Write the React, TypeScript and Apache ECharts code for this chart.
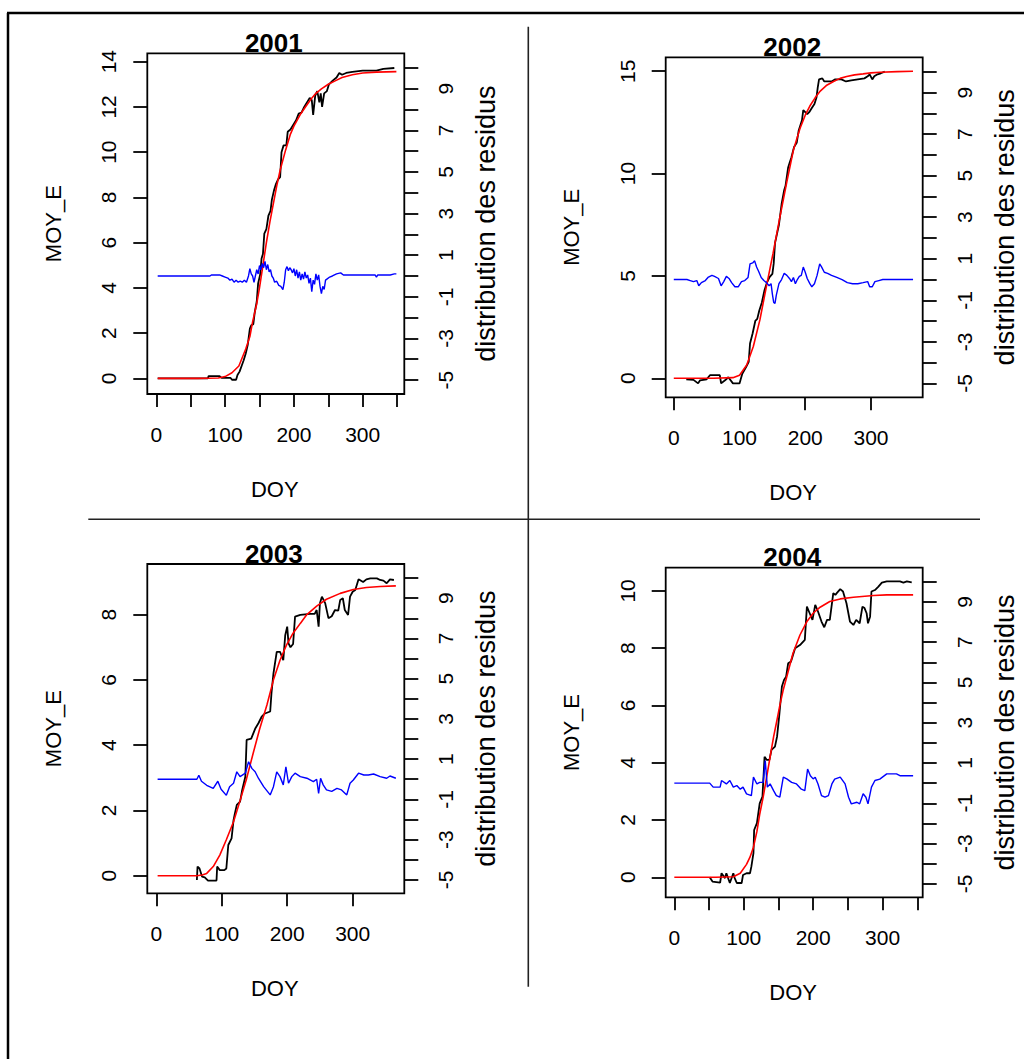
import React, { useEffect, useRef } from "react";
import * as echarts from "echarts";

type P = [number, number][];

const FONT = '"Liberation Sans", Arial, Helvetica, sans-serif';

// ---------- titles / labels ----------
const years = ["2001", "2002", "2003", "2004"];
const yName = "MOY_E";
const xName = "DOY";
const resName = "distribution des residus";

// ---------- tick values ----------
const xTicks50 = [0, 50, 100, 150, 200, 250, 300, 350];
const xTicks100 = [0, 100, 200, 300];
const xLabels = [0, 100, 200, 300];
const yTicks2001 = [0, 2, 4, 6, 8, 10, 12, 14];
const yTicks2002 = [0, 5, 10, 15];
const yTicks2003 = [0, 2, 4, 6, 8];
const yTicks2004 = [0, 2, 4, 6, 8, 10];
const resTicks = [-5, -4, -3, -2, -1, 0, 1, 2, 3, 4, 5, 6, 7, 8, 9, 10];
const resLabels = [-5, -3, -1, 1, 3, 5, 7, 9];

// ---------- 2001 ----------
const obs2001: P = [[2,0],[75,0],[76,0.1],[92,0.1],[95,0.02],[108,0.02],[110,-0.06],[116,-0.06],[118,0.15],[121,0.3],[124,0.55],[127,0.8],[130,1.1],[133,1.5],[136,2.2],[138,2.35],[141,2.4],[143,2.9],[146,3.4],[148,4.2],[151,4.6],[153,5.3],[155,5.5],[157,6.4],[160,6.6],[163,7.2],[166,7.4],[168,7.9],[171,8.3],[174,8.6],[177,8.8],[180,8.9],[182,10.0],[185,10.3],[189,10.3],[191,10.9],[195,11.0],[199,11.2],[203,11.4],[207,11.7],[211,11.75],[215,12.0],[219,12.2],[223,12.4],[226,12.3],[228,11.65],[231,12.5],[234,12.7],[237,12.2],[239,12.6],[241,12.0],[244,12.6],[248,12.7],[251,13.0],[256,13.15],[262,13.3],[266,13.5],[270,13.42],[276,13.5],[285,13.55],[300,13.6],[320,13.6],[330,13.68],[346,13.72]];
const fit2001: P = [[2,0],[60,0],[90,0.02],[100,0.08],[110,0.25],[120,0.55],[130,1.3],[136,1.85],[140,2.5],[146,3.3],[150,4.0],[155,5.0],[160,6.0],[165,6.9],[170,7.7],[175,8.5],[180,9.2],[188,10.1],[195,10.8],[200,11.15],[210,11.7],[218,12.05],[225,12.35],[232,12.6],[240,12.8],[250,13.0],[260,13.15],[270,13.3],[285,13.42],[300,13.5],[320,13.54],[349,13.56]];
const res2001: P = [[2,0],[78,0],[80,0.05],[92,0.05],[96,0],[100,-0.05],[104,-0.1],[107,-0.2],[110,-0.15],[113,-0.3],[116,-0.2],[119,-0.3],[122,-0.25],[125,-0.3],[128,-0.2],[131,-0.3],[134,0],[136,0.35],[138,0.1],[140,0],[142,-0.3],[144,0],[146,0.3],[148,0.1],[150,0.5],[152,0.3],[154,0.6],[156,0.4],[158,0.7],[160,0.3],[162,0.55],[164,0.2],[166,0.3],[168,0],[170,-0.1],[172,-0.3],[175,-0.25],[178,-0.45],[181,-0.5],[184,-0.65],[186,-0.3],[188,0.3],[190,0.45],[192,0.25],[194,0.4],[196,0.3],[198,0.15],[200,0.35],[202,0],[204,0.3],[206,-0.1],[208,0.2],[210,-0.2],[212,0.1],[214,-0.15],[216,0.2],[218,-0.1],[220,0.05],[222,-0.35],[224,-0.1],[226,-0.75],[228,-0.2],[230,-0.4],[232,0.1],[234,-0.2],[236,0.05],[238,-0.5],[240,-0.85],[242,-0.5],[244,-0.65],[246,-0.2],[248,-0.15],[252,-0.05],[256,0],[262,0.1],[268,0.15],[272,0.05],[300,0.05],[318,0.05],[320,-0.05],[322,0.05],[340,0.05],[346,0.1],[349,0.1]];

// ---------- 2002 ----------
const obs2002: P = [[19,-0.05],[30,-0.08],[37,-0.25],[40,-0.1],[50,-0.05],[55,0.15],[70,0.15],[72,-0.25],[78,-0.1],[83,0.05],[90,-0.25],[100,-0.25],[104,0.2],[110,0.55],[114,0.8],[116,1.7],[120,2.2],[124,2.8],[127,2.9],[130,3.3],[134,3.7],[138,4.3],[142,4.7],[146,4.95],[150,5.1],[152,5.6],[154,6.6],[158,7.2],[160,7.5],[164,8.5],[168,9.2],[170,9.4],[174,10.3],[176,10.5],[179,10.8],[183,11.3],[187,11.5],[190,12.1],[192,12.3],[195,12.6],[197,13.1],[200,13.0],[203,12.9],[206,13.0],[210,13.2],[214,13.4],[217,13.7],[219,14.2],[221,14.6],[226,14.65],[229,14.5],[240,14.5],[245,14.6],[255,14.6],[262,14.5],[270,14.55],[280,14.6],[290,14.65],[295,14.75],[298,14.85],[302,14.6],[305,14.75],[310,14.85],[315,14.9],[321,14.98]];
const fit2002: P = [[0,0],[60,0],[90,0.03],[100,0.15],[111,0.65],[121,1.55],[131,2.85],[141,4.5],[151,6.1],[161,7.8],[172,9.6],[182,11.15],[192,12.2],[200,12.85],[207,13.3],[215,13.7],[222,14.0],[232,14.3],[243,14.5],[253,14.65],[263,14.74],[275,14.82],[288,14.87],[300,14.92],[314,14.95],[340,14.98],[364,15.0]];
const res2002: P = [[0,0],[20,0],[25,-0.05],[30,-0.1],[35,-0.05],[38,-0.3],[42,-0.15],[48,-0.05],[52,0.1],[58,0.2],[62,0.15],[68,0.05],[72,-0.3],[76,-0.1],[80,0.15],[84,0.05],[88,-0.15],[93,-0.35],[98,-0.35],[103,-0.1],[108,-0.05],[113,0.1],[116,0.75],[120,0.8],[123,0.9],[126,0.6],[129,0.4],[133,0.1],[137,-0.05],[141,-0.15],[145,-0.3],[148,-0.2],[150,-0.7],[152,-1.1],[154,-1.15],[156,-0.75],[160,-0.2],[164,0],[168,0.3],[172,0.2],[176,0.05],[179,-0.1],[182,0.1],[185,-0.2],[188,0],[191,0.15],[194,0.2],[197,0.6],[200,0.35],[203,0.05],[207,-0.2],[210,-0.35],[214,-0.2],[218,0.2],[222,0.75],[225,0.6],[229,0.35],[234,0.3],[240,0.2],[248,0.1],[256,0],[264,-0.15],[272,-0.2],[280,-0.2],[288,-0.15],[295,-0.1],[298,-0.35],[302,-0.35],[306,-0.1],[312,-0.05],[318,0],[364,0]];

// ---------- 2003 ----------
const obs2003: P = [[62,-0.13],[63,0.28],[66,0.22],[70,-0.03],[74,-0.05],[79,-0.15],[92,-0.15],[93,0.28],[97,0.17],[104,0.17],[107,0.22],[110,0.94],[115,1.14],[118,1.7],[120,1.9],[123,2.17],[128,2.27],[131,2.6],[136,3.03],[138,4.16],[145,4.2],[151,4.5],[156,4.67],[161,4.87],[166,4.97],[174,5.03],[176,5.6],[179,6.2],[184,6.86],[189,6.86],[194,6.6],[197,7.37],[200,7.63],[202,7.12],[205,7.0],[209,7.1],[212,7.94],[220,7.99],[235,8.02],[242,8.02],[245,8.14],[248,7.63],[250,8.35],[253,8.55],[258,8.35],[263,7.89],[268,7.95],[273,8.14],[278,8.12],[281,8.45],[285,8.5],[288,8.14],[293,7.99],[296,8.55],[300,8.7],[304,8.75],[309,9.08],[316,9.0],[321,9.08],[327,9.11],[337,9.11],[342,9.06],[347,9.04],[352,8.96],[357,9.08],[363,9.06]];
const fit2003: P = [[2,0],[62,0],[70,0.02],[77,0.07],[87,0.28],[97,0.63],[107,1.1],[118,1.65],[128,2.3],[138,2.98],[148,3.75],[158,4.5],[169,5.23],[179,6.0],[189,6.6],[199,7.07],[209,7.43],[220,7.73],[230,8.0],[245,8.26],[260,8.47],[281,8.65],[301,8.77],[321,8.83],[342,8.86],[366,8.88]];
const res2003: P = [[2,0],[62,0],[65,0.2],[69,-0.1],[77,-0.3],[87,-0.45],[94,-0.1],[99,-0.5],[107,-0.8],[112,-0.37],[118,-0.2],[123,0.37],[128,0.13],[136,0.3],[141,0.87],[146,0.54],[151,0.37],[156,0.05],[164,-0.37],[174,-0.78],[179,-0.37],[184,0.37],[189,0.13],[194,-0.28],[198,0.62],[202,-0.2],[207,0.13],[212,0.3],[220,0.13],[230,0.05],[240,-0.12],[245,0],[248,-0.7],[251,0.05],[255,-0.28],[260,-0.53],[268,-0.6],[276,-0.45],[283,-0.53],[291,-0.78],[296,-0.2],[301,-0.04],[309,0.3],[317,0.21],[324,0.21],[332,0.26],[342,0.13],[352,0.05],[357,0.16],[366,0.05]];

// ---------- 2004 ----------
const obs2004: P = [[51,0],[55,-0.15],[66,-0.19],[68,0.14],[73,-0.03],[75,0.14],[80,-0.2],[85,0.14],[87,-0.03],[90,-0.2],[97,-0.2],[99,0.08],[104,0.14],[109,0.14],[111,0.37],[114,0.84],[115,1.65],[119,1.89],[123,2.58],[127,2.82],[130,4.21],[133,4.1],[137,4.1],[140,4.45],[145,4.56],[148,4.91],[151,5.61],[155,6.66],[158,6.89],[161,7.0],[164,7.47],[168,7.53],[174,8.0],[181,8.11],[188,8.29],[191,9.45],[195,9.22],[199,8.99],[203,9.51],[207,9.28],[212,8.93],[216,8.73],[220,8.99],[224,8.99],[229,9.92],[232,9.86],[234,9.92],[239,10.06],[243,9.98],[248,9.57],[253,8.93],[258,8.81],[262,8.99],[267,8.87],[271,9.45],[274,9.4],[277,9.22],[279,8.87],[282,9.1],[284,9.98],[289,10.03],[294,10.15],[299,10.29],[306,10.33],[325,10.33],[330,10.29],[335,10.33],[342,10.3]];
const fit2004: P = [[0,0],[60,0],[85,0.02],[95,0.14],[104,0.45],[109,0.7],[114,1.05],[119,1.6],[123,2.2],[128,2.8],[133,3.5],[138,4.2],[143,4.9],[148,5.5],[152,6.0],[157,6.55],[162,7.0],[171,7.82],[181,8.46],[191,8.93],[200,9.22],[210,9.43],[224,9.63],[239,9.72],[258,9.78],[287,9.84],[306,9.86],[344,9.86]];
const res2004: P = [[0,0],[51,0],[56,-0.2],[66,-0.2],[68,0.13],[75,-0.04],[80,0.13],[85,-0.2],[90,-0.12],[95,-0.3],[99,-0.2],[104,-0.53],[111,-0.62],[114,0.3],[119,-0.04],[123,0.04],[128,0.04],[131,1.12],[134,-0.2],[138,-0.04],[143,-0.37],[147,-0.62],[152,-0.7],[157,0.3],[162,0.21],[169,0.04],[176,-0.04],[183,-0.3],[188,-0.37],[192,0.7],[196,0.37],[200,0.21],[203,0.29],[207,-0.04],[212,-0.62],[217,-0.7],[222,-0.62],[227,-0.04],[231,0.2],[239,0.3],[246,-0.04],[251,-0.7],[255,-1.03],[263,-0.95],[267,-1.03],[272,-0.53],[276,-0.7],[279,-1.03],[284,-0.2],[289,0.13],[296,0.2],[306,0.46],[320,0.46],[325,0.37],[344,0.37]];

const obsSeries = [obs2001, obs2002, obs2003, obs2004];
const fitSeries = [fit2001, fit2002, fit2003, fit2004];
const resSeries = [res2001, res2002, res2003, res2004];
const yTicksList = [yTicks2001, yTicks2002, yTicks2003, yTicks2004];
const xTicksList = [xTicks50, xTicks100, xTicks100, xTicks50];

// ---------- layout (pixels / axis extents) ----------
const panels = [
  { left: 147.3, top: 53.3, width: 257, height: 340.7, xMin: -13.1, xMax: 360.5, yMin: -0.69, yMax: 14.37 },
  { left: 665.7, top: 57.3, width: 257, height: 340, xMin: -12.3, xMax: 378.7, yMin: -0.93, yMax: 15.68 },
  { left: 147.3, top: 564, width: 257, height: 329.3, xMin: -13.75, xMax: 378.9, yMin: -0.54, yMax: 9.55 },
  { left: 665.7, top: 567.7, width: 257, height: 329.6, xMin: -12.4, xMax: 357.8, yMin: -0.7, yMax: 10.81 },
];
const resMin = -5.67;
const resMax = 10.7;

function text(t: string, x: number, y: number, size: number, opts: any = {}) {
  return {
    type: "text",
    x,
    y,
    rotation: opts.rotate ? Math.PI / 2 : 0,
    z: 100,
    style: {
      text: t,
      fontSize: size,
      fontFamily: FONT,
      fontWeight: opts.bold ? "bold" : "normal",
      fill: "#000",
      align: "center",
      verticalAlign: "middle",
      textAlign: "center",
      textVerticalAlign: "middle",
    },
  };
}

function line(x1: number, y1: number, x2: number, y2: number, w: number, c: string) {
  return { type: "line", z: 100, shape: { x1, y1, x2, y2 }, style: { stroke: c, lineWidth: w } };
}

function buildOption() {
  const grid: any[] = [];
  const xAxis: any[] = [];
  const yAxis: any[] = [];
  const series: any[] = [];
  const graphic: any[] = [];

  const tickStyle = { color: "#000", width: 1.8 };
  const labelBase = { color: "#000", fontSize: 21, fontFamily: FONT, lineHeight: 21 };

  panels.forEach((p, i) => {
    grid.push({
      left: p.left,
      top: p.top,
      width: p.width,
      height: p.height,
      show: true,
      borderColor: "#000",
      borderWidth: 1.8,
      backgroundColor: "transparent",
      containLabel: false,
    });
    xAxis.push({
      gridIndex: i,
      type: "value",
      min: p.xMin,
      max: p.xMax,
      axisLine: { show: false, onZero: false },
      axisTick: { show: true, length: 13, lineStyle: tickStyle, customValues: xTicksList[i] },
      axisLabel: { ...labelBase, margin: 30, customValues: xLabels },
      splitLine: { show: false },
    });
    yAxis.push({
      gridIndex: i,
      type: "value",
      position: "left",
      min: p.yMin,
      max: p.yMax,
      axisLine: { show: false, onZero: false },
      axisTick: { show: true, length: 14, lineStyle: tickStyle, customValues: yTicksList[i] },
      axisLabel: { ...labelBase, rotate: 90, margin: 28, customValues: yTicksList[i] },
      splitLine: { show: false },
    });
    yAxis.push({
      gridIndex: i,
      type: "value",
      position: "right",
      min: resMin,
      max: resMax,
      axisLine: { show: false, onZero: false },
      axisTick: { show: true, length: 14, lineStyle: tickStyle, customValues: resTicks },
      axisLabel: { ...labelBase, rotate: 90, margin: 31, customValues: resLabels },
      splitLine: { show: false },
    });
    const common = { type: "line", xAxisIndex: i, symbol: "none", silent: true, clip: true };
    series.push({ ...common, name: "obs " + years[i], yAxisIndex: 2 * i, data: obsSeries[i], lineStyle: { color: "#000", width: 1.8 }, z: 2 });
    series.push({ ...common, name: "fit " + years[i], yAxisIndex: 2 * i, data: fitSeries[i], lineStyle: { color: "#ff0000", width: 1.6 }, z: 3 });
    series.push({ ...common, name: "res " + years[i], yAxisIndex: 2 * i + 1, data: resSeries[i], lineStyle: { color: "#0000ff", width: 1.4 }, z: 4 });

    const cx = p.left + p.width / 2;
    const cy = p.top + p.height / 2;
    graphic.push(text(years[i], cx - 2, p.top - 10.5, 26, { bold: true }));
    graphic.push(text(xName, cx - 1, p.top + p.height + 95, 22));
    graphic.push(text(yName, p.left - 94, cy, 22, { rotate: true }));
    graphic.push(text(resName, p.left + p.width + 82, cy, 27, { rotate: true }));
  });

  // outer frame and dividers
  graphic.push(line(7, 13, 1024, 13, 2.5, "#000"));
  graphic.push(line(8, 13, 8, 1059, 2.5, "#000"));
  graphic.push(line(528.3, 26.7, 528.3, 986.7, 1.6, "#222"));
  graphic.push(line(88.3, 519.3, 980, 519.3, 1.6, "#222"));

  return {
    animation: false,
    backgroundColor: "#fff",
    grid,
    xAxis,
    yAxis,
    series,
    graphic,
  };
}

export default function App() {
  const ref = useRef<HTMLDivElement>(null);
  useEffect(() => {
    if (!ref.current) return;
    const chart = echarts.init(ref.current, undefined, { renderer: "svg" });
    chart.setOption(buildOption() as any);
    return () => chart.dispose();
  }, []);
  return (
    <div
      ref={ref}
      style={{ position: "absolute", left: 0, top: 0, width: 1024, height: 1059, background: "#fff" }}
    />
  );
}
